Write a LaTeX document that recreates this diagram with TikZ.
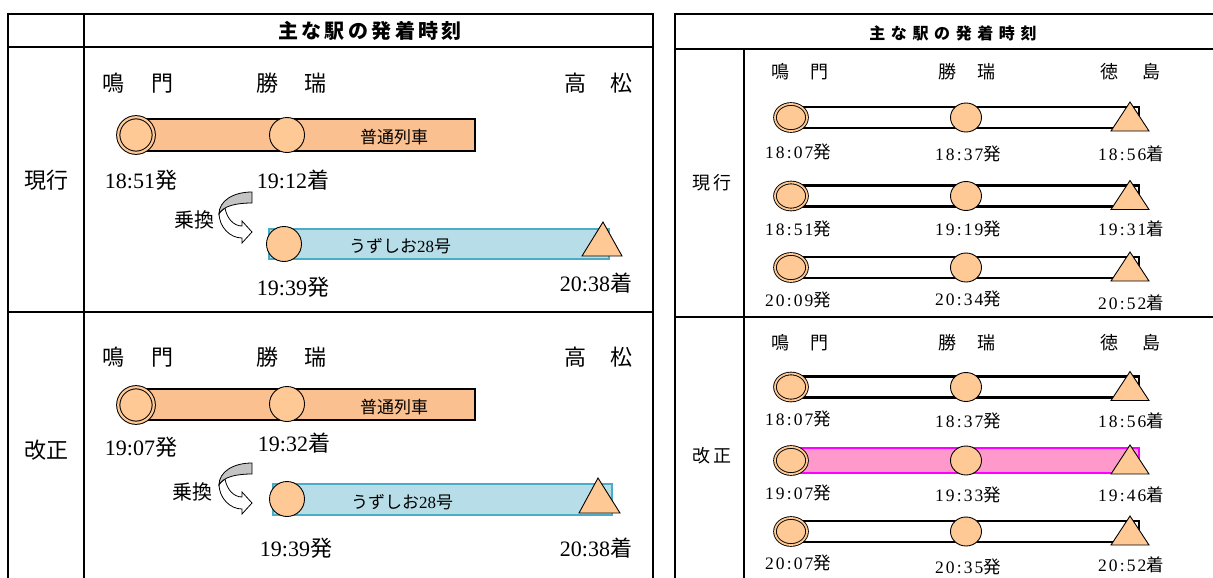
\documentclass[tikz,border=0pt]{standalone}
\usepackage{fontspec}
\setmainfont{Liberation Serif}
\newfontfamily\cjk{Noto Sans CJK JP}
\newfontfamily\cjkls[LetterSpace=14]{Noto Sans CJK JP}
\newfontfamily\cjkhl[LetterSpace=17]{Noto Sans CJK JP}
\newfontfamily\cjkhr[LetterSpace=35]{Noto Sans CJK JP}
\newfontfamily\serls[LetterSpace=12]{Liberation Serif}
\usetikzlibrary{shapes.geometric}
\definecolor{peach}{HTML}{FFC996}
\definecolor{barorange}{HTML}{FAC090}
\definecolor{barblue}{HTML}{B7DEE8}
\definecolor{lineblue}{HTML}{4BACC6}
\definecolor{barpink}{HTML}{FF99CC}
\definecolor{linepink}{HTML}{FF00FF}
\definecolor{arrowgray}{HTML}{C4C4C4}
\newcommand\ltm[2]{#1{\cjk #2}}
\newcommand\rtm[2]{{\serls #1}{\cjkls #2}}
\begin{document}
\begin{tikzpicture}[x=1pt,y=-1pt,
  tbl/.style={line width=2.6pt, line cap=rect},
  lcirc/.style={circle, draw=black, line width=0.9pt, fill=peach, minimum size=35pt, inner sep=0pt},
  ldbl/.style={circle, draw=black, double=peach, double distance=2.2pt, line width=1pt, fill=peach, minimum size=35.5pt, inner sep=0pt},
  rcirc/.style={ellipse, draw=black, line width=0.9pt, fill=peach, minimum width=31pt, minimum height=29pt, inner sep=0pt},
  rdbl/.style={ellipse, draw=black, double=peach, double distance=1.8pt, line width=0.9pt, fill=peach, minimum width=32pt, minimum height=27pt, inner sep=0pt},
  obar/.style={fill=barorange, draw=black, line width=2.4pt},
  bbar/.style={fill=barblue, draw=lineblue, line width=2.6pt},
  wbar/.style={fill=white, draw=black, line width=2.2pt},
  pbar/.style={fill=barpink, draw=linepink, line width=2pt},
  tri/.style={fill=peach, draw=black, line width=0.9pt, line join=miter},
  xarrow/.style={draw=black, line width=0.8pt},
  ltxt/.style={inner sep=0pt, font=\fontsize{22}{24}\selectfont},
  lstn/.style={inner sep=0pt, font=\fontsize{22}{24}\selectfont\cjk},
  bartxt/.style={inner sep=0pt, font=\fontsize{17}{19}\selectfont},
  rtxt/.style={inner sep=0pt, font=\fontsize{17.5}{20}\selectfont},
  rstn/.style={inner sep=0pt, font=\fontsize{18}{20}\selectfont\cjk},
]
\useasboundingbox (0,0) rectangle (1213,578);

% ---------------- left table ----------------
\draw[tbl] (8,600) -- (8,14) -- (653,14) -- (653,600);
\draw[tbl] (8,47) -- (653,47);
\draw[tbl] (84,14) -- (84,600);
\draw[tbl] (8,312) -- (653,312);
\node[inner sep=0pt, font=\fontsize{20}{22}\selectfont\cjkhl\bfseries] (hL) at (370,31) {主な駅の発着時刻};
\node[lstn] (rowLa) at (46,180) {現行};
\node[lstn] (rowLb) at (46,450) {改正};

% current (left)
\node[lstn] (sLa1) at (138,83) {鳴\hspace{27pt}門};
\node[lstn] (sLa2) at (291.5,83) {勝\hspace{27pt}瑞};
\node[lstn] (sLa3) at (598.5,83) {高\hspace{25pt}松};
\path[obar] (136,119) rectangle (475,151);
\node[ldbl] (cLa1) at (136,135) {};
\node[lcirc] (cLa2) at (287,135) {};
\node[bartxt, font=\fontsize{17}{19}\selectfont\cjk] (lLa1) at (394,137) {普通列車};
\node[ltxt] (tLa1) at (141,180) {\ltm{18:51}{発}};
\node[ltxt] (tLa2) at (293,180) {\ltm{19:12}{着}};
\begin{scope}
\draw[xarrow, fill=white] (219,213) .. controls (219,227) and (230,238) .. (242,238) -- (242,243) -- (252,232) -- (242,221) -- (242,226) .. controls (234,226) and (227,219) .. (225,208) -- cycle;
\draw[xarrow, fill=arrowgray] (252,192) .. controls (233,192) and (219,201) .. (219,214) .. controls (223,206) and (236,203) .. (252,203) -- cycle;
\end{scope}
\node[lstn, font=\fontsize{20}{22}\selectfont\cjk] (xLa) at (194,220) {乗換};
\path[bbar] (269,229) rectangle (609,259);
\node[lcirc] (cLa3) at (284,244) {};
\draw[tri] (603,222) -- (622,256) -- (582,256) -- cycle;
\node[bartxt] (lLa2) at (400,246) {{\cjk うずしお}28{\cjk 号}};
\node[ltxt] (tLa3) at (293,287) {\ltm{19:39}{発}};
\node[ltxt] (tLa4) at (596,283) {\ltm{20:38}{着}};

% revised (left)
\node[lstn] (sLb1) at (138,357) {鳴\hspace{27pt}門};
\node[lstn] (sLb2) at (291.5,357) {勝\hspace{27pt}瑞};
\node[lstn] (sLb3) at (598.5,357) {高\hspace{25pt}松};
\path[obar] (136,389) rectangle (475,420);
\node[ldbl] (cLb1) at (136,405) {};
\node[lcirc] (cLb2) at (287,404) {};
\node[bartxt, font=\fontsize{17}{19}\selectfont\cjk] (lLb1) at (394,407) {普通列車};
\node[ltxt] (tLb1) at (141,447) {\ltm{19:07}{発}};
\node[ltxt] (tLb2) at (294,443) {\ltm{19:32}{着}};
\begin{scope}[shift={(0,271)}]
\draw[xarrow, fill=white] (219,213) .. controls (219,227) and (230,238) .. (242,238) -- (242,243) -- (252,232) -- (242,221) -- (242,226) .. controls (234,226) and (227,219) .. (225,208) -- cycle;
\draw[xarrow, fill=arrowgray] (252,192) .. controls (233,192) and (219,201) .. (219,214) .. controls (223,206) and (236,203) .. (252,203) -- cycle;
\end{scope}
\node[lstn, font=\fontsize{20}{22}\selectfont\cjk] (xLb) at (192,492) {乗換};
\path[bbar] (273,484) rectangle (612,515);
\node[lcirc] (cLb3) at (287,499) {};
\draw[tri] (598,478) -- (620,513) -- (579,513) -- cycle;
\node[bartxt] (lLb2) at (402,502) {{\cjk うずしお}28{\cjk 号}};
\node[ltxt] (tLb3) at (296,548) {\ltm{19:39}{発}};
\node[ltxt] (tLb4) at (596,548) {\ltm{20:38}{着}};

% ---------------- right table ----------------
\draw[tbl] (675,600) -- (675,14) -- (1213,14);
\draw[tbl] (675,49) -- (1213,49);
\draw[tbl] (744,49) -- (744,600);
\draw[tbl] (675,317) -- (1213,317);
\node[inner sep=0pt, font=\fontsize{16}{18}\selectfont\cjkhr\bfseries] (hR) at (953,33) {主な駅の発着時刻};
\node[inner sep=0pt, font=\fontsize{18}{20}\selectfont\cjkls] (rowRa) at (712,183) {現行};
\node[inner sep=0pt, font=\fontsize{18}{20}\selectfont\cjkls] (rowRb) at (712,456) {改正};

\node[rstn] (sRa1) at (800,72) {鳴\hspace{21pt}門};
\node[rstn] (sRa2) at (967,72) {勝\hspace{21pt}瑞};
\node[rstn] (sRa3) at (1130.5,72) {徳\hspace{25pt}島};
\node[rstn] (sRb1) at (800,343) {鳴\hspace{21pt}門};
\node[rstn] (sRb2) at (967,343) {勝\hspace{21pt}瑞};
\node[rstn] (sRb3) at (1130.5,343) {徳\hspace{25pt}島};

\foreach \id/\c/\hh/\st/\ta/\sa/\tb/\sb/\tc/\sc/\ya/\yb/\yc in {
  a/117.5/10.5/wbar/18:07/発/18:37/発/18:56/着/152/154/154,
  b/196/10.5/wbar/18:51/発/19:19/発/19:31/着/229/229/229,
  c/267.5/10.5/wbar/20:09/発/20:34/発/20:52/着/300/299/303,
  d/387/10.5/wbar/18:07/発/18:37/発/18:56/着/419/421/421,
  e/460.5/12.5/pbar/19:07/発/19:33/発/19:46/着/493/495/495,
  f/531.5/10.5/wbar/20:07/発/20:35/発/20:52/着/563/567/565}{
  \path[\st] (791,\c-\hh) rectangle (1139,\c+\hh);
  \node[rdbl] (cR\id1) at (791,\c) {};
  \node[rcirc] (cR\id2) at (966,\c) {};
  \draw[tri] (1130,\c-15.5) -- (1149,\c+13.5) -- (1111,\c+13.5) -- cycle;
  \node[rtxt] (tR\id1) at (798,\ya) {\rtm{\ta}{\sa}};
  \node[rtxt] (tR\id2) at (968,\yb) {\rtm{\tb}{\sb}};
  \node[rtxt] (tR\id3) at (1131,\yc) {\rtm{\tc}{\sc}};
}
\end{tikzpicture}
\end{document}
